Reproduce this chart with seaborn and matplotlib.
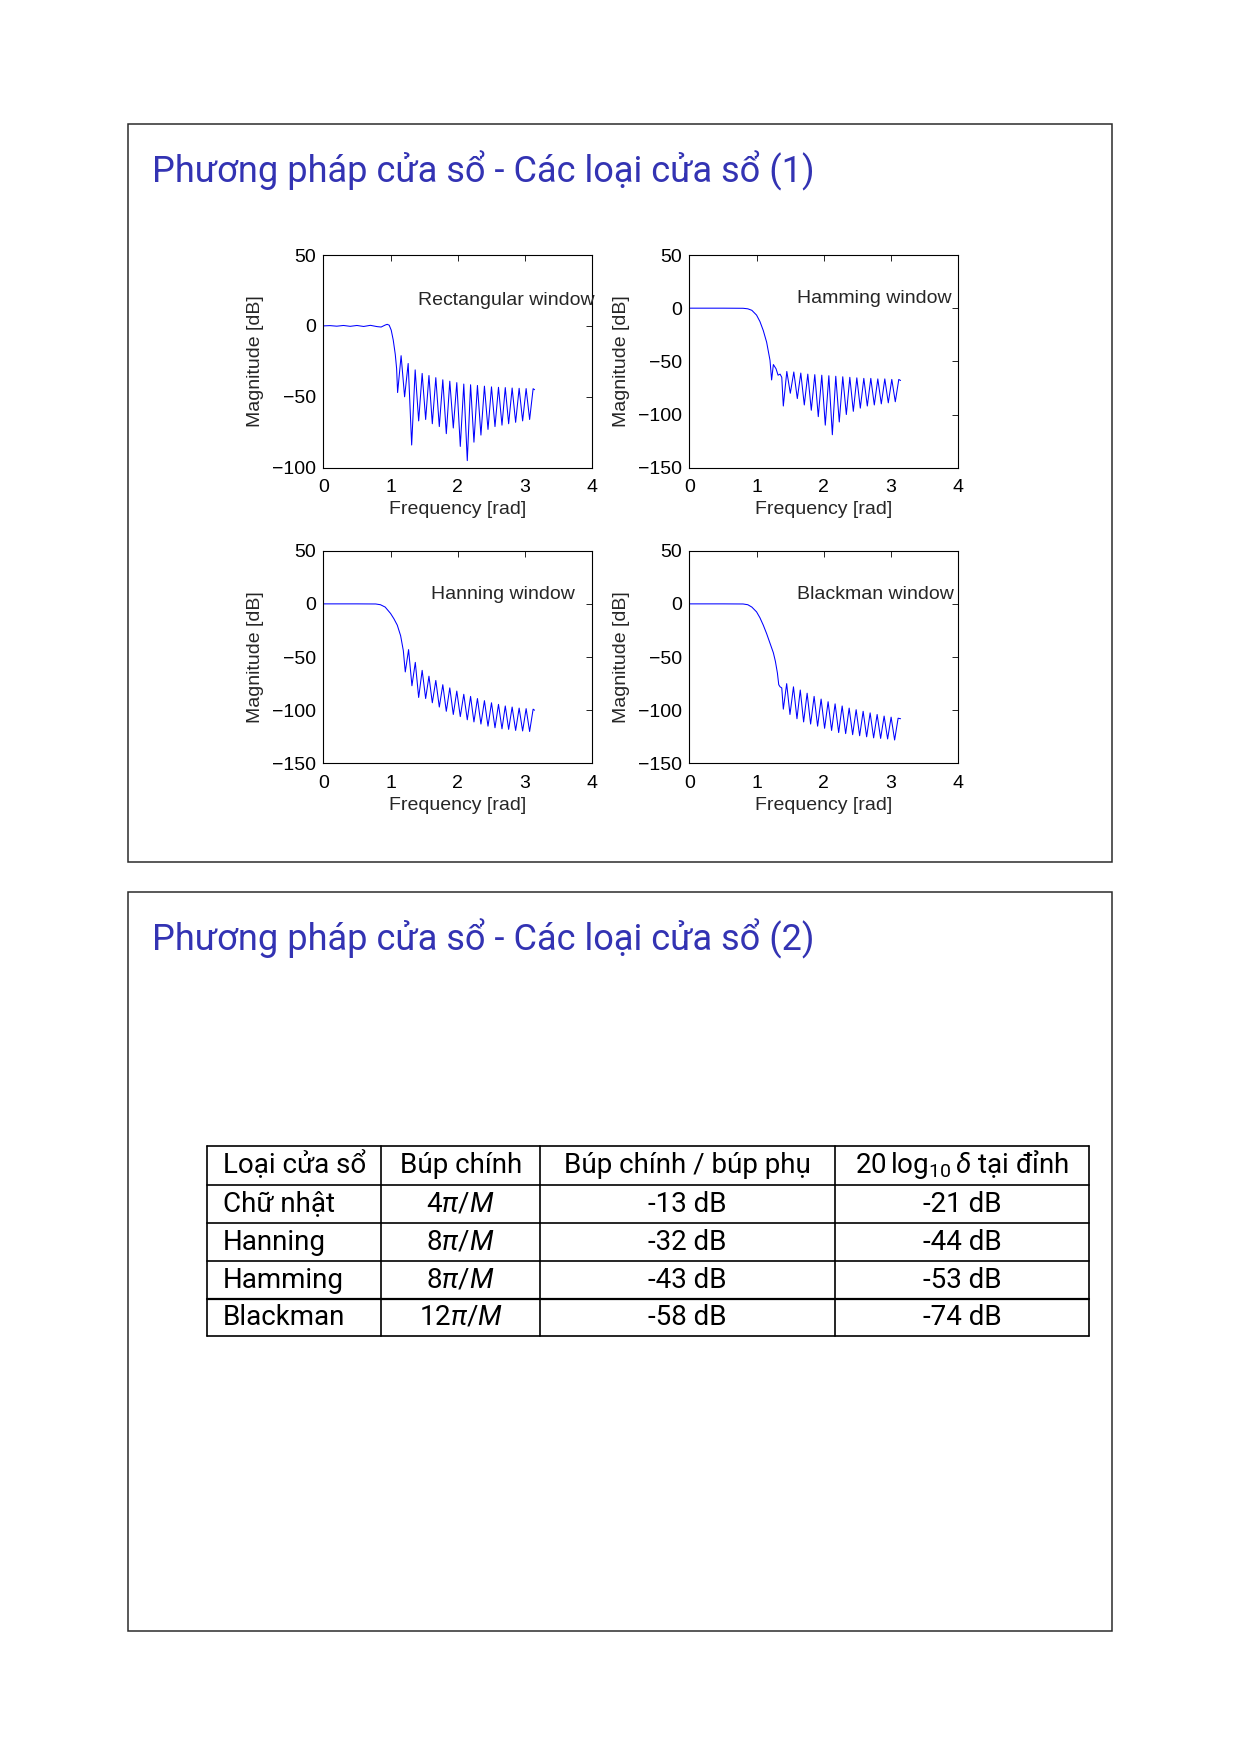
import matplotlib
matplotlib.use("Agg")
import matplotlib.pyplot as plt
import seaborn as sns
import pandas as pd
from matplotlib.patches import Rectangle
from matplotlib.lines import Line2D

# ---------------- data ----------------
rect_freq = [0.00, 0.10, 0.20, 0.30, 0.40, 0.50, 0.60, 0.70, 0.80, 0.86, 0.92, 0.95, 0.98,
             1.01, 1.04, 1.07, 1.09, 1.105,
             1.157, 1.209, 1.262, 1.314, 1.366, 1.418, 1.470, 1.522, 1.571, 1.621, 1.673,
             1.725, 1.777, 1.829, 1.881, 1.933, 1.985, 2.037, 2.089, 2.141, 2.190, 2.240,
             2.292, 2.344, 2.396, 2.449, 2.501, 2.553, 2.605, 2.657, 2.706, 2.756, 2.808,
             2.860, 2.912, 2.964, 3.016, 3.068, 3.120, 3.1416]
rect_db = [0.0, 0.2, -0.2, 0.3, -0.3, 0.3, -0.4, 0.4, -0.5, -0.8, 0.6, 1.1, 0.5,
           -3, -10, -20, -30, -47,
           -21, -50, -26.5, -84, -31, -67, -33.5, -66, -35, -69, -36.5,
           -71, -38, -76, -39, -72, -40, -85, -41, -95, -41.5, -82,
           -42, -77, -42.5, -73, -43, -71, -43.3, -70, -43.5, -69, -43.8,
           -68, -44, -67, -44.2, -66, -44.3, -45]

hamm_freq = [0.00, 0.50, 0.80, 0.87, 0.93, 1.00, 1.05, 1.10, 1.15, 1.20, 1.224, 1.25, 1.29,
             1.32, 1.35, 1.375, 1.398,
             1.450, 1.502, 1.554, 1.606, 1.658, 1.710, 1.762, 1.814, 1.866, 1.918, 1.970,
             2.022, 2.075, 2.127, 2.178, 2.230, 2.282, 2.335, 2.387, 2.439, 2.491, 2.543,
             2.595, 2.647, 2.699, 2.751, 2.803, 2.855, 2.907, 2.959, 3.011, 3.063, 3.115, 3.1416]
hamm_db = [0, 0, -0.1, -0.6, -2, -6.5, -12.5, -21, -32, -49, -67.5, -53, -57,
           -63, -62, -65, -92,
           -59.5, -80, -60, -85, -61, -91, -62, -96, -62.5, -102, -63,
           -110, -63.5, -119, -64, -107, -64.5, -100, -65, -97, -65.5, -94,
           -66, -92, -66, -91, -66.5, -90, -66.5, -89, -67, -88, -67, -68]

hann_freq = [0.00, 0.50, 0.78, 0.85, 0.92, 1.00, 1.05, 1.10, 1.15, 1.19, 1.219,
             1.268, 1.318, 1.368, 1.418, 1.470, 1.522, 1.571, 1.621, 1.673, 1.725, 1.777,
             1.829, 1.881, 1.933, 1.985, 2.037, 2.089, 2.141, 2.190, 2.240, 2.292, 2.344,
             2.396, 2.449, 2.501, 2.553, 2.605, 2.657, 2.706, 2.756, 2.808, 2.860, 2.912,
             2.964, 3.016, 3.068, 3.120, 3.1416]
hann_db = [0, 0, -0.1, -0.8, -3, -9, -14, -20, -30, -44, -64,
           -43, -77, -55, -88, -62.5, -89, -68, -93, -72, -97, -76,
           -101, -79, -104, -82, -106, -85, -109, -87, -111, -89, -113,
           -91, -115, -93, -116.5, -94.5, -117.5, -96, -118, -97, -119, -98,
           -119.5, -98.5, -120, -99, -100]

black_freq = [0.00, 0.50, 0.80, 0.87, 0.93, 1.00, 1.05, 1.10, 1.15, 1.20, 1.25, 1.28, 1.31,
              1.33, 1.35, 1.375, 1.398,
              1.448, 1.497, 1.549, 1.601, 1.650, 1.700, 1.752, 1.804, 1.856, 1.908, 1.960,
              2.012, 2.064, 2.116, 2.168, 2.221, 2.273, 2.325, 2.377, 2.429, 2.481, 2.533,
              2.585, 2.637, 2.689, 2.741, 2.793, 2.845, 2.897, 2.949, 3.001, 3.053, 3.105, 3.1416]
black_db = [0, 0, -0.1, -0.8, -3, -7.5, -13, -20, -28, -37, -46, -54, -65,
            -76, -78, -79, -99,
            -75, -104, -78, -108, -81, -111, -84, -113, -87, -115, -89.5,
            -117, -92, -119, -94, -121, -96, -122, -98, -123, -99.5, -124,
            -101, -125, -102.5, -126, -104, -126.5, -105.5, -127, -106.5, -128, -107.5, -108]

panel_names = ["Rectangular window", "Hamming window", "Hanning window", "Blackman window"]
panel_ylims = [(-100, 50), (-150, 50), (-150, 50), (-150, 50)]
panel_yticks = [[-100, -50, 0, 50], [-150, -100, -50, 0, 50],
                [-150, -100, -50, 0, 50], [-150, -100, -50, 0, 50]]
panel_text_pos = [(1.41, 18), (1.6, 9), (1.6, 9), (1.6, 9)]
xticks = [0, 1, 2, 3, 4]

slide_titles = ["Phương pháp cửa sổ - Các loại cửa sổ (1)",
                "Phương pháp cửa sổ - Các loại cửa sổ (2)"]

table_header = ["Loại cửa sổ", "Búp chính", "Búp chính / búp phụ",
                r"20$\,\log_{10}\delta$ tại đỉnh"]
table_names = ["Chữ nhật", "Hanning", "Hamming", "Blackman"]
table_mainlobe = [r"$4\pi/M$", r"$8\pi/M$", r"$8\pi/M$", r"$12\pi/M$"]
table_sidelobe = ["-13 dB", "-32 dB", "-43 dB", "-58 dB"]
table_peak = ["-21 dB", "-44 dB", "-53 dB", "-74 dB"]

# ---------------- style ----------------
sns.set_style("white")
plt.rcParams["font.family"] = ["Liberation Sans", "DejaVu Sans"]
plt.rcParams["axes.unicode_minus"] = True
plt.rcParams["mathtext.fontset"] = "custom"
plt.rcParams["mathtext.rm"] = "Roboto"
plt.rcParams["mathtext.it"] = "Roboto:italic"
plt.rcParams["mathtext.sf"] = "Roboto"

W, H = 1240, 1753
fig = plt.figure(figsize=(W / 100, H / 100), dpi=100)
fig.patch.set_facecolor("white")


def fx(px):
    return px / W


def fy(py):
    return 1 - py / H


title_color = "#3333B3"
box_color = "#2b2b2b"

# slide boxes
for top, bot in [(124.3, 862.3), (892.3, 1630.7)]:
    fig.add_artist(Rectangle((fx(128.3), fy(bot)), (1112.3 - 128.3) / W, (bot - top) / H,
                             fill=False, lw=1.1, ec=box_color, transform=fig.transFigure))

# slide titles (fit width to the reference)
for t_text, base in zip(slide_titles, [182.5, 950.5]):
    t = fig.text(fx(152.5), fy(base), t_text, color=title_color, fontsize=25,
                 family=["Roboto", "DejaVu Sans"], va="baseline", ha="left")
    fig.canvas.draw()
    w = t.get_window_extent().width
    t.set_fontsize(25 * 663.0 / w)

# ---------------- four response panels ----------------
series = [(rect_freq, rect_db), (hamm_freq, hamm_db), (hann_freq, hann_db), (black_freq, black_db)]
lefts = [323.3, 689.3, 323.3, 689.3]
tops = [255.0, 255.0, 550.7, 550.7]
aw, ah = 269.0, 212.7

for i, ((fr, db), name) in enumerate(zip(series, panel_names)):
    ax = fig.add_axes([fx(lefts[i]), fy(tops[i] + ah), aw / W, ah / H])
    df = pd.DataFrame({"Frequency": fr, "dB": db})
    sns.lineplot(data=df, x="Frequency", y="dB", ax=ax, color="#0000FF", lw=0.75,
                 estimator=None, sort=False)
    ax.set_xlim(0, 4)
    ax.set_ylim(*panel_ylims[i])
    ax.set_xticks(xticks)
    ax.set_yticks(panel_yticks[i])
    ax.tick_params(direction="in", length=4, width=0.6, top=True, right=True,
                   labelsize=14, colors="black")
    ax.tick_params(axis="y", pad=5)
    ax.tick_params(axis="x", pad=8)
    for s in ax.spines.values():
        s.set_visible(True)
        s.set_linewidth(0.8)
        s.set_color("black")
    ax.set_xlabel("Frequency [rad]", fontsize=14, labelpad=4)
    ax.set_ylabel("Magnitude [dB]", fontsize=14, labelpad=6)
    tx, ty = panel_text_pos[i]
    ax.text(tx, ty, name, fontsize=14, ha="left", va="center")
    ax.set_facecolor("white")
    ax.grid(False)

# ---------------- table ----------------
col_x = [206.8, 381.3, 540.0, 835.0, 1089.0]
row_y = [1146.0, 1185.0, 1223.0, 1261.0, 1299.0, 1336.0]
for j, yy in enumerate(row_y):
    lw = 1.6 if j == 4 else 1.2
    fig.add_artist(Line2D([fx(col_x[0]), fx(col_x[-1])], [fy(yy), fy(yy)], lw=lw,
                          color="black", transform=fig.transFigure))
for xx in col_x:
    fig.add_artist(Line2D([fx(xx), fx(xx)], [fy(row_y[0]), fy(row_y[-1])], lw=1.2,
                          color="black", transform=fig.transFigure))

tfont = ["Roboto", "DejaVu Sans"]
tsize = 20
rows = [table_header] + [[table_names[k], table_mainlobe[k], table_sidelobe[k], table_peak[k]]
                         for k in range(4)]
for r, cells in enumerate(rows):
    yc = (row_y[r] + row_y[r + 1]) / 2 + 7.5
    for c, txt in enumerate(cells):
        if c == 0:
            fig.text(fx(col_x[0] + 16), fy(yc), txt, fontsize=tsize, family=tfont,
                     ha="left", va="baseline", color="black")
        else:
            xc = (col_x[c] + col_x[c + 1]) / 2
            fig.text(fx(xc), fy(yc), txt, fontsize=tsize, family=tfont,
                     ha="center", va="baseline", color="black")

fig.savefig("out.png", dpi=100, facecolor="white")
